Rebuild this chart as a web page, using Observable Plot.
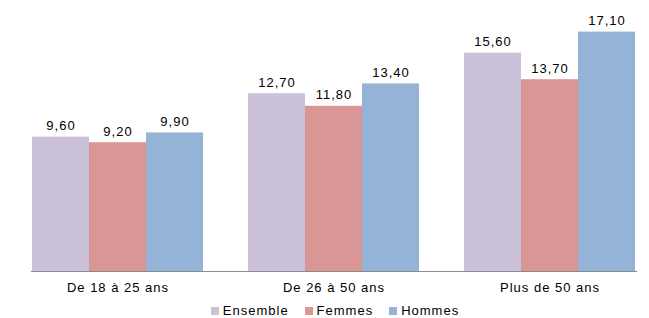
<!DOCTYPE html>
<html>
<head>
<meta charset="utf-8">
<script src="https://cdn.jsdelivr.net/npm/d3@7"></script>
<script src="https://cdn.jsdelivr.net/npm/@observablehq/plot@0.6"></script>
<style>
  html, body { margin: 0; padding: 0; background: #fff; overflow: hidden; width: 649px; height: 318px; }
  #chart { position: relative; width: 658px; }
  #chart svg text { font-family: "Liberation Sans", Arial, sans-serif; }
  #legend { position: absolute; left: 0; top: 304px; width: 670px; display: flex; justify-content: center;
    font-family: "Liberation Sans", Arial, sans-serif; font-size: 13px; letter-spacing: 1px; color: #000; line-height: 14px; }
  #legend .item { display: flex; align-items: center; margin: 0 8px; }
  #legend .sw { width: 8px; height: 8px; margin-right: 4px; }
</style>
</head>
<body>
<div id="chart"></div>
<div id="legend"></div>
<script>
const groups = ["De 18 à 25 ans", "De 26 à 50 ans", "Plus de 50 ans"];
const series = ["Ensemble", "Femmes", "Hommes"];
const colors = ["#CCC1DA", "#D99694", "#95B3D7"];
const ensemble = [9.60, 12.70, 15.60];
const femmes = [9.20, 11.80, 13.70];
const hommes = [9.90, 13.40, 17.10];

const valuesBySeries = [ensemble, femmes, hommes];
const data = [];
groups.forEach((g, gi) => {
  series.forEach((s, si) => {
    data.push({group: g, series: s, value: valuesBySeries[si][gi]});
  });
});
const fmt = v => v.toFixed(2).replace(".", ",");

const chart = Plot.plot({
  width: 658,
  height: 300,
  marginLeft: 9,
  marginRight: 0,
  marginTop: 0,
  marginBottom: 29,
  style: {fontFamily: "'Liberation Sans', Arial, sans-serif", fontSize: "13px", color: "#000", background: "#fff", letterSpacing: "1px"},
  fx: {domain: groups, paddingInner: 0.2, paddingOuter: 0.1, label: null, axis: "bottom", tickSize: 0, tickPadding: 11},
  x: {domain: series, padding: 0, axis: null},
  y: {domain: [0, 271 / 14], axis: null},
  color: {domain: series, range: colors},
  marks: [
    Plot.barY(data, {fx: "group", x: "series", y: "value", fill: "series", inset: 0}),
    Plot.text(data, {fx: "group", x: "series", y: "value", text: d => fmt(d.value), lineAnchor: "bottom", dy: -7, fill: "#000"}),
    Plot.frame({anchor: "bottom", facet: "super", stroke: "#8c8c8c", strokeWidth: 1.2})
  ]
});
document.getElementById("chart").appendChild(chart);

const legend = document.getElementById("legend");
series.forEach((s, i) => {
  const item = document.createElement("div");
  item.className = "item";
  const sw = document.createElement("div");
  sw.className = "sw";
  sw.style.background = colors[i];
  const label = document.createElement("span");
  label.textContent = s;
  item.appendChild(sw);
  item.appendChild(label);
  legend.appendChild(item);
});
</script>
</body>
</html>
